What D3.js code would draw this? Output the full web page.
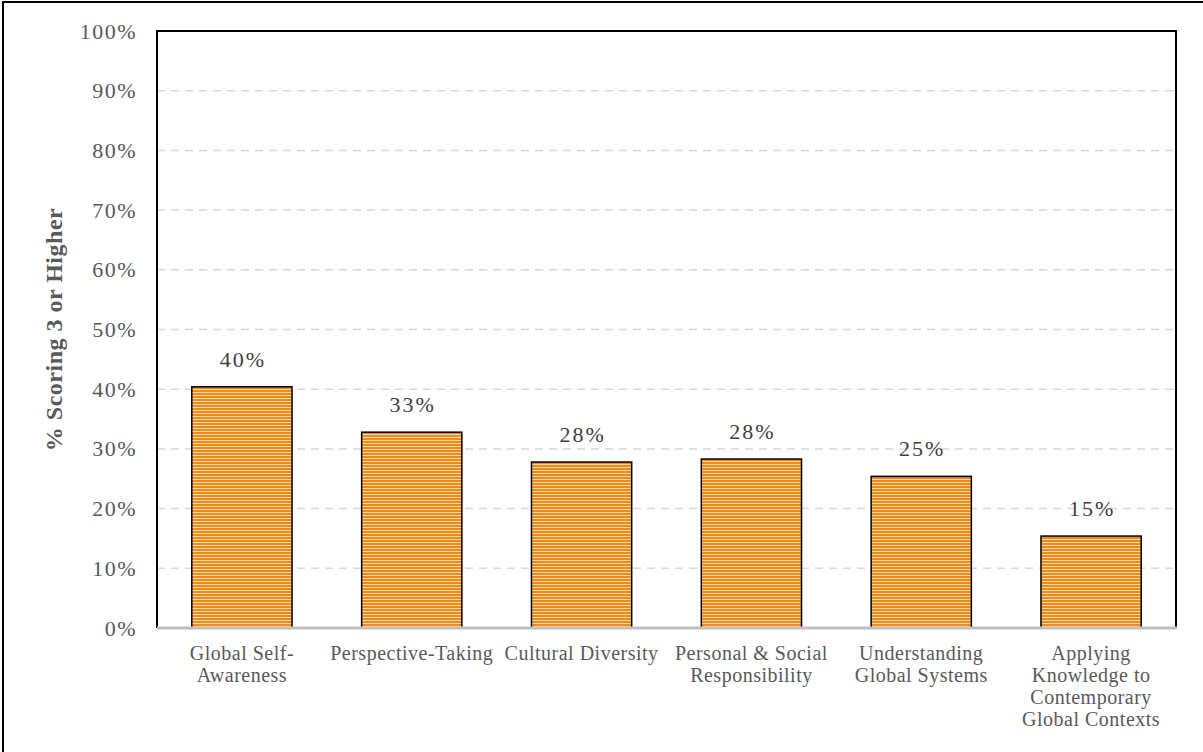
<!DOCTYPE html>
<html><head><meta charset="utf-8">
<script src="https://cdn.jsdelivr.net/npm/d3@7"></script>
<style>body{margin:0;background:#fff;} svg{display:block;}</style>
</head><body>
<svg id="c" width="1203" height="752"></svg>
<script>
const categories = [
  ["Global Self-","Awareness"],
  ["Perspective-Taking"],
  ["Cultural Diversity"],
  ["Personal & Social","Responsibility"],
  ["Understanding","Global Systems"],
  ["Applying","Knowledge to","Contemporary","Global Contexts"]
];
const values = [40.4, 32.8, 27.8, 28.3, 25.4, 15.4];
const valueLabels = ["40%","33%","28%","28%","25%","15%"];
const yTicks = [0,10,20,30,40,50,60,70,80,90,100];
const yTitle = "% Scoring 3 or Higher";

const svg = d3.select("#c");
const font = "'Liberation Serif', serif";
const L = 157, R = 1176, T = 31, B = 628;

const defs = svg.append("defs");
const pat = defs.append("pattern").attr("id","stripe").attr("patternUnits","userSpaceOnUse")
  .attr("width",8).attr("height",3);
pat.append("rect").attr("width",8).attr("height",3).attr("fill","#fdd9b0");
pat.append("rect").attr("width",8).attr("height",2).attr("fill","#f28a17");

svg.append("rect").attr("x",3).attr("y",2).attr("width",1210).attr("height",760)
  .attr("fill","none").attr("stroke","#000").attr("stroke-width",2);

const x = d3.scaleBand().domain(d3.range(categories.length)).range([L,R]).paddingInner(0.41).paddingOuter(0.205);
const y = d3.scaleLinear().domain([0,100]).range([B,T]);

// gridlines
svg.append("g").selectAll("line").data(yTicks.filter(d=>d>0 && d<100)).join("line")
  .attr("x1",L).attr("x2",R).attr("y1",d=>y(d)).attr("y2",d=>y(d))
  .attr("stroke","#d9d9d9").attr("stroke-width",1.5).attr("stroke-dasharray","8,6");

// y axis labels
const yAxis = svg.append("g").attr("transform",`translate(${L},0)`)
  .call(d3.axisLeft(y).tickValues(yTicks).tickFormat(d=>d+"%").tickSize(0).tickPadding(20));
yAxis.select(".domain").remove();
yAxis.selectAll("text").attr("font-family",font).attr("font-size",22).attr("letter-spacing",1.5).attr("fill","#595959");

// bars
svg.append("g").selectAll("rect").data(values).join("rect")
  .attr("x",(d,i)=>x(i)).attr("width",x.bandwidth())
  .attr("y",d=>y(d)).attr("height",d=>B-y(d))
  .attr("fill","url(#stripe)").attr("stroke","#000").attr("stroke-width",1.5);

// value labels
svg.append("g").selectAll("text").data(values).join("text")
  .attr("x",(d,i)=>x(i)+x.bandwidth()/2+1).attr("y",d=>y(d)-20)
  .attr("text-anchor","middle").attr("font-family",font).attr("font-size",22).attr("letter-spacing",2)
  .attr("fill","#404040")
  .text((d,i)=>valueLabels[i]);

// plot border
svg.append("path").attr("d",`M${L},${B}V${T}H${R}V${B}`).attr("fill","none").attr("stroke","#000").attr("stroke-width",2);
// x axis line
svg.append("line").attr("x1",L).attr("x2",R+1).attr("y1",B).attr("y2",B).attr("stroke","#bfbfbf").attr("stroke-width",3);

// category labels
const cg = svg.append("g");
categories.forEach((lines,i)=>{
  const t = cg.append("text").attr("text-anchor","middle").attr("font-family",font)
    .attr("font-size",20).attr("letter-spacing",0.5).attr("fill","#595959");
  lines.forEach((ln,j)=>{
    t.append("tspan").attr("x",x(i)+x.bandwidth()/2).attr("y",660+j*22).text(ln);
  });
});

// y title
svg.append("text").attr("transform",`translate(62,${(T+B)/2}) rotate(-90)`)
  .attr("text-anchor","middle").attr("font-family",font).attr("font-size",24).attr("letter-spacing",0.5)
  .attr("font-weight","bold").attr("fill","#595959").text(yTitle);
</script>
</body></html>
